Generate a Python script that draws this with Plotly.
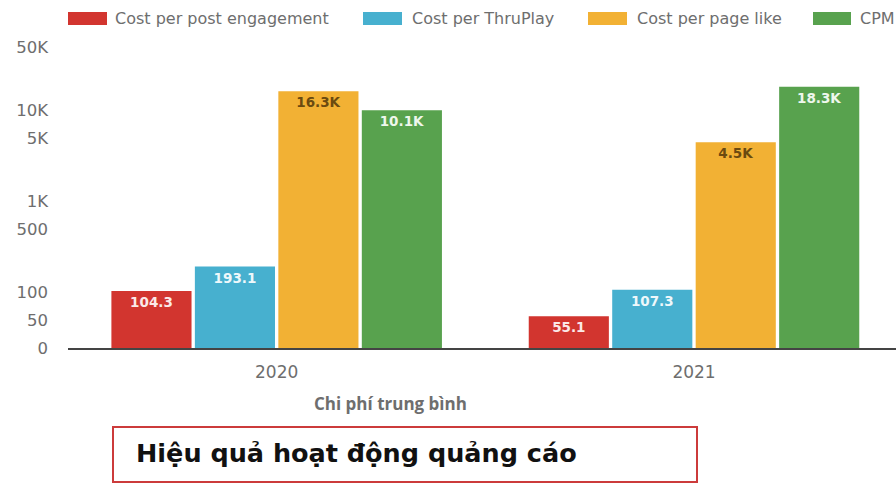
import math
import plotly.graph_objects as go

years = ["2020", "2021"]
series_names = ["Cost per post engagement", "Cost per ThruPlay", "Cost per page like", "CPM"]
series_values = [
    [104.3, 55.1],
    [193.1, 107.3],
    [16300, 4500],
    [10100, 18300],
]
series_labels = [
    ["104.3", "55.1"],
    ["193.1", "107.3"],
    ["16.3K", "4.5K"],
    ["10.1K", "18.3K"],
]
colors = ["#d2352f", "#47b0cf", "#f2b134", "#58a24e"]
label_colors = ["#fbe9e8", "#eef8fb", "#6b4a10", "#eef7ec"]

tick_vals = [24.6, 50, 100, 500, 1000, 5000, 10000, 50000]
tick_text = ["0", "50", "100", "500", "1K", "5K", "10K", "50K"]

W, H = 896, 485
L, R, T, B = 68, 896, 47, 348


def px(x):
    return (x - L) / (R - L)


def py(y):
    return (B - y) / (B - T)


FONT = "DejaVu Sans"
GREY = "#6e6e6e"

fig = go.Figure()
for name, vals, labs, c, lc in zip(series_names, series_values, series_labels, colors, label_colors):
    fig.add_trace(go.Bar(
        x=years, y=vals, name=name, marker=dict(color=c, line=dict(width=0)),
        text=labs, textposition="inside", insidetextanchor="end",
        textfont=dict(color=lc, size=13.5, family=FONT, weight="bold"),
        cliponaxis=False,
    ))

fig.update_layout(
    width=W, height=H,
    margin=dict(l=L, r=W - R, t=T, b=H - B),
    paper_bgcolor="white", plot_bgcolor="white",
    showlegend=False,
    barmode="group", bargap=0.2, bargroupgap=0.04,
    font=dict(family=FONT, color=GREY),
)
fig.update_xaxes(
    type="category", range=[-0.5, 1.484],
    showgrid=False, showline=True, linecolor="#444444", linewidth=1.5,
    ticks="", ticklabelstandoff=8,
    tickfont=dict(size=17, color=GREY, family=FONT),
)
fig.update_yaxes(
    type="log", range=[math.log10(24.6), math.log10(50000)],
    showgrid=False, zeroline=False, showline=False,
    tickvals=tick_vals, ticktext=tick_text, ticks="",
    ticklabelstandoff=19,
    tickfont=dict(size=16.5, color=GREY, family=FONT),
)

# manual legend (clipped at right edge like the reference)
legend_items = [(68, 107, 113), (363, 402, 410), (588, 627, 635), (813, 851, 858)]
for (x0, x1, tx), name, c in zip(legend_items, series_names, colors):
    fig.add_shape(type="rect", xref="paper", yref="paper",
                  x0=px(x0), x1=px(x1), y0=py(25), y1=py(12),
                  fillcolor=c, line=dict(width=0))
    fig.add_annotation(xref="paper", yref="paper", x=px(tx), y=py(18.5),
                       xanchor="left", yanchor="middle", showarrow=False,
                       text=name, font=dict(size=16, color=GREY, family=FONT))

# x-axis title
fig.add_annotation(xref="paper", yref="paper", x=px(390), y=py(404),
                   xanchor="center", yanchor="middle", showarrow=False,
                   text="<b>Chi phí trung bình</b>",
                   font=dict(size=17, color=GREY, family="Open Sans"))

# boxed caption
fig.add_shape(type="rect", xref="paper", yref="paper",
              x0=px(113), x1=px(697), y0=py(482), y1=py(427),
              fillcolor="white", line=dict(color="#cc3b3b", width=2))
fig.add_annotation(xref="paper", yref="paper", x=px(134), y=py(453),
                   xanchor="left", yanchor="middle", showarrow=False,
                   text="<b>Hiệu quả hoạt động quảng cáo</b>",
                   font=dict(size=25.5, color="#111111", family=FONT))

fig.write_html("out.html")
